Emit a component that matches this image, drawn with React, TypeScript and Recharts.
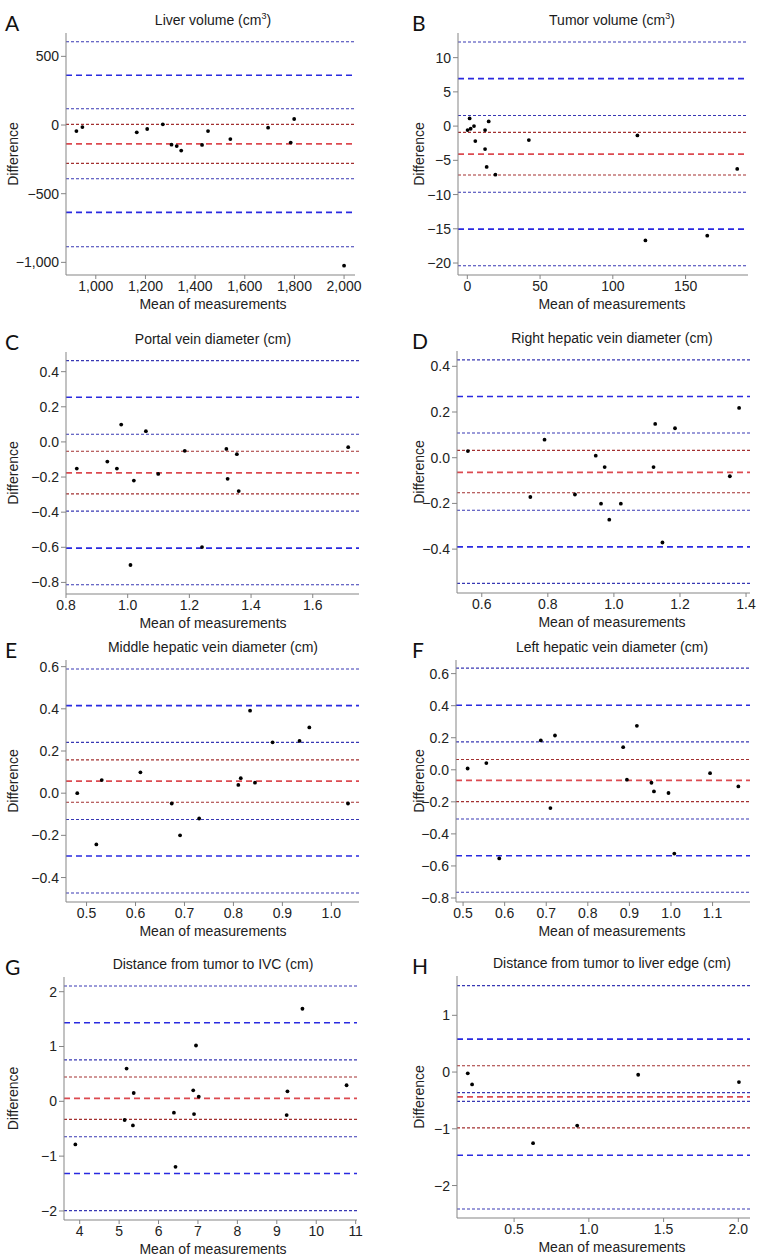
import React from "react";
import {
  ScatterChart,
  Scatter,
  XAxis,
  YAxis,
  ReferenceLine,
  Label,
} from "recharts";

const FONT = '"Liberation Sans", Arial, Helvetica, sans-serif';

// limits: bias, bias CI lo, bias CI hi, upper LoA, CI lo, CI hi, lower LoA, CI lo, CI hi

// A - liver volume
const liverMean = [922, 946, 1165, 1207, 1270, 1305, 1326, 1344, 1428, 1452, 1542, 1694, 1785, 1799, 2000];
const liverDiff = [-44, -15, -53, -29, 5, -143, -153, -186, -145, -44, -102, -19, -128, 44, -1024];
const liverLimits = [-138, -279, 5, 362, 119, 606, -636, -886, -391];
const liverXTicks = [1000, 1200, 1400, 1600, 1800, 2000];
const liverYTicks = [-1000, -500, 0, 500];

// B - tumor volume
const tumorMean = [0.2, 2.3, 1.6, 4.6, 5.5, 12.2, 12.2, 13.3, 14.7, 19.3, 42.3, 116.9, 122.4, 164.9, 185.5];
const tumorDiff = [-0.58, -0.39, 1.12, 0, -2.18, -0.58, -3.35, -5.97, 0.68, -7.09, -2.04, -1.36, -16.7, -16.0, -6.26];
const tumorLimits = [-4.08, -7.14, -0.92, 6.94, 1.55, 12.28, -15.05, -20.39, -9.66];
const tumorXTicks = [0, 50, 100, 150];
const tumorYTicks = [-20, -15, -10, -5, 0, 5, 10];

// C - portal vein
const portalMean = [0.835, 0.934, 0.965, 0.979, 1.009, 1.02, 1.059, 1.099, 1.185, 1.241, 1.32, 1.324, 1.354, 1.36, 1.715];
const portalDiff = [-0.152, -0.112, -0.152, 0.099, -0.701, -0.22, 0.061, -0.182, -0.051, -0.599, -0.04, -0.21, -0.07, -0.28, -0.03];
const portalLimits = [-0.176, -0.296, -0.053, 0.254, 0.044, 0.463, -0.605, -0.813, -0.394];
const portalXTicks = [0.8, 1.0, 1.2, 1.4, 1.6];
const portalYTicks = [-0.8, -0.6, -0.4, -0.2, 0, 0.2, 0.4];

// D - right hepatic vein
const rightMean = [0.558, 0.747, 0.79, 0.882, 0.945, 0.961, 0.972, 0.986, 1.021, 1.12, 1.125, 1.147, 1.185, 1.351, 1.379];
const rightDiff = [0.029, -0.172, 0.079, -0.161, 0.009, -0.201, -0.041, -0.271, -0.201, -0.041, 0.148, -0.371, 0.129, -0.081, 0.218];
const rightLimits = [-0.064, -0.153, 0.032, 0.268, 0.108, 0.428, -0.39, -0.55, -0.23];
const rightXTicks = [0.6, 0.8, 1.0, 1.2, 1.4];
const rightYTicks = [-0.4, -0.2, 0, 0.2, 0.4];

// E - middle hepatic vein
const middleMean = [0.481, 0.52, 0.531, 0.61, 0.674, 0.691, 0.73, 0.81, 0.815, 0.834, 0.844, 0.88, 0.935, 0.955, 1.034];
const middleDiff = [0.0, -0.243, 0.062, 0.099, -0.049, -0.2, -0.12, 0.039, 0.071, 0.391, 0.05, 0.241, 0.248, 0.312, -0.049];
const middleLimits = [0.057, -0.043, 0.158, 0.415, 0.241, 0.589, -0.298, -0.473, -0.125];
const middleXTicks = [0.5, 0.6, 0.7, 0.8, 0.9, 1.0];
const middleYTicks = [-0.4, -0.2, 0, 0.2, 0.4, 0.6];

// F - left hepatic vein
const leftMean = [0.511, 0.556, 0.587, 0.687, 0.71, 0.721, 0.885, 0.894, 0.918, 0.953, 0.959, 0.994, 1.008, 1.094, 1.162];
const leftDiff = [0.008, 0.042, -0.553, 0.183, -0.239, 0.214, 0.141, -0.062, 0.274, -0.081, -0.135, -0.145, -0.523, -0.021, -0.104];
const leftLimits = [-0.066, -0.199, 0.064, 0.403, 0.174, 0.634, -0.536, -0.764, -0.307];
const leftXTicks = [0.5, 0.6, 0.7, 0.8, 0.9, 1.0, 1.1];
const leftYTicks = [-0.8, -0.6, -0.4, -0.2, 0, 0.2, 0.4, 0.6];

// G - tumor to IVC
const ivcMean = [3.89, 5.14, 5.19, 5.35, 5.37, 6.39, 6.43, 6.88, 6.9, 6.95, 7.02, 9.25, 9.27, 9.65, 10.77];
const ivcDiff = [-0.787, -0.341, 0.598, -0.439, 0.152, -0.207, -1.195, 0.201, -0.232, 1.018, 0.085, -0.25, 0.183, 1.689, 0.293];
const ivcLimits = [0.055, -0.329, 0.445, 1.433, 0.756, 2.104, -1.317, -1.994, -0.646];
const ivcXTicks = [4, 5, 6, 7, 8, 9, 10, 11];
const ivcYTicks = [-2, -1, 0, 1, 2];

// H - tumor to liver edge
const edgeMean = [0.19, 0.219, 0.627, 0.922, 1.33, 2.004];
const edgeDiff = [-0.023, -0.217, -1.254, -0.943, -0.047, -0.176];
const edgeLimits = [-0.439, -0.984, 0.111, 0.58, -0.363, 1.523, -1.465, -2.414, -0.516];
const edgeXTicks = [0.5, 1.0, 1.5, 2.0];
const edgeYTicks = [-2, -1, 0, 1];

const fmt = (digits: number, comma = false) => (v: number) => {
  const a = Math.abs(v);
  const s = comma ? a.toLocaleString("en-US") : a.toFixed(digits);
  return (v < 0 ? "\u2212" : "") + s;
};

function lineStyle(i: number) {
  if (i === 0) return { stroke: "#dc4a50", dash: "6 4", w: 1.8 };
  if (i < 3) return { stroke: "#a33030", dash: "3 2", w: 1.1 };
  if (i === 3 || i === 6) return { stroke: "#2a2ae0", dash: "6 4", w: 1.6 };
  return { stroke: "#3838b4", dash: "3 2", w: 1.1 };
}

type PanelDef = {
  letter: string;
  title: React.ReactNode;
  col: number;
  box: [number, number, number, number];
  mean: number[];
  diff: number[];
  limits: number[];
  xDomain: [number, number];
  yDomain: [number, number];
  xTicks: number[];
  yTicks: number[];
  xFmt: (v: number) => string;
  yFmt: (v: number) => string;
};

const cm3 = (name: string) => (
  <>
    {name} (cm<sup style={{ fontSize: 9, lineHeight: 0 }}>3</sup>)
  </>
);

const panels: PanelDef[] = [
  { letter: "A", title: cm3("Liver volume"), col: 0, box: [66, 33, 355, 275], mean: liverMean, diff: liverDiff, limits: liverLimits, xDomain: [880, 2044], yDomain: [-1092, 670], xTicks: liverXTicks, yTicks: liverYTicks, xFmt: fmt(0, true), yFmt: fmt(0, true) },
  { letter: "B", title: cm3("Tumor volume"), col: 1, box: [458, 33, 748, 275], mean: tumorMean, diff: tumorDiff, limits: tumorLimits, xDomain: [-6.4, 192.9], yDomain: [-21.75, 13.6], xTicks: tumorXTicks, yTicks: tumorYTicks, xFmt: fmt(0), yFmt: fmt(0) },
  { letter: "C", title: "Portal vein diameter (cm)", col: 0, box: [66, 352, 359, 594], mean: portalMean, diff: portalDiff, limits: portalLimits, xDomain: [0.8, 1.75], yDomain: [-0.866, 0.512], xTicks: portalXTicks, yTicks: portalYTicks, xFmt: fmt(1), yFmt: fmt(1) },
  { letter: "D", title: "Right hepatic vein diameter (cm)", col: 1, box: [457, 351, 750, 593], mean: rightMean, diff: rightDiff, limits: rightLimits, xDomain: [0.525, 1.412], yDomain: [-0.592, 0.467], xTicks: rightXTicks, yTicks: rightYTicks, xFmt: fmt(1), yFmt: fmt(1) },
  { letter: "E", title: "Middle hepatic vein diameter (cm)", col: 0, box: [66, 660, 359, 902], mean: middleMean, diff: middleDiff, limits: middleLimits, xDomain: [0.458, 1.0565], yDomain: [-0.516, 0.6315], xTicks: middleXTicks, yTicks: middleYTicks, xFmt: fmt(1), yFmt: fmt(1) },
  { letter: "F", title: "Left hepatic vein diameter (cm)", col: 1, box: [456, 660, 750, 902], mean: leftMean, diff: leftDiff, limits: leftLimits, xDomain: [0.483, 1.19], yDomain: [-0.825, 0.685], xTicks: leftXTicks, yTicks: leftYTicks, xFmt: fmt(1), yFmt: fmt(1) },
  { letter: "G", title: "Distance from tumor to IVC (cm)", col: 0, box: [64, 977, 357, 1220], mean: ivcMean, diff: ivcDiff, limits: ivcLimits, xDomain: [3.602, 11.034], yDomain: [-2.165, 2.268], xTicks: ivcXTicks, yTicks: ivcYTicks, xFmt: fmt(0), yFmt: fmt(0) },
  { letter: "H", title: "Distance from tumor to liver edge (cm)", col: 1, box: [457, 976, 750, 1218], mean: edgeMean, diff: edgeDiff, limits: edgeLimits, xDomain: [0.118, 2.078], yDomain: [-2.572, 1.693], xTicks: edgeXTicks, yTicks: edgeYTicks, xFmt: fmt(1), yFmt: fmt(0) },
];

const textStyle = { fontSize: 14, fill: "#222", fontFamily: FONT };
const FRAME = "#858585";

function Panel({ d }: { d: PanelDef }) {
  const colX = d.col * 390;
  const [L, T, R, B] = d.box;
  const height = B - T + 5 + 40 + 4;
  const centerX = colX + (d.col === 0 ? 213 : 222);
  const data = d.mean.map((x, i) => ({ x, y: d.diff[i] }));
  return (
    <>
      <div
        style={{
          position: "absolute",
          left: colX + (d.col ? 22 : 5),
          top: T - 21,
          fontFamily: "Lato, 'Open Sans', sans-serif",
          fontSize: 21,
          lineHeight: "21px",
          color: "#111",
        }}
      >
        {d.letter}
      </div>
      <div
        style={{
          position: "absolute",
          left: centerX - 180,
          width: 360,
          top: T - 22,
          textAlign: "center",
          fontFamily: FONT,
          fontSize: 14,
          lineHeight: "18px",
          color: "#1a1a1a",
        }}
      >
        {d.title}
      </div>
      <div style={{ position: "absolute", left: colX, top: T - 5 }}>
        <ScatterChart
          width={390}
          height={height}
          margin={{ top: 5, right: colX + 390 - R, bottom: 4, left: 0 }}
        >
          <XAxis
            type="number"
            dataKey="x"
            domain={d.xDomain}
            ticks={d.xTicks}
            interval={0}
            allowDataOverflow
            tickFormatter={d.xFmt}
            height={40}
            stroke={FRAME}
            tickSize={4}
            tickMargin={2}
            tick={textStyle}
          >
            <Label
              value="Mean of measurements"
              position="insideBottom"
              offset={6}
              dx={centerX - (L + R) / 2}
              {...textStyle}
            />
          </XAxis>
          <XAxis
            xAxisId="top"
            orientation="top"
            type="number"
            dataKey="x"
            domain={d.xDomain}
            allowDataOverflow
            height={0}
            tick={false}
            tickLine={false}
            stroke={FRAME}
          />
          <YAxis
            type="number"
            dataKey="y"
            domain={d.yDomain}
            ticks={d.yTicks}
            interval={0}
            allowDataOverflow
            tickFormatter={d.yFmt}
            width={L - colX}
            stroke={FRAME}
            tickSize={5}
            tickMargin={2}
            tick={textStyle}
          >
            <Label
              value="Difference"
              angle={-90}
              position="insideLeft"
              offset={d.col ? 29.5 : 12.7}
              style={{ textAnchor: "middle" }}
              {...textStyle}
            />
          </YAxis>
          <YAxis
            yAxisId="right"
            orientation="right"
            type="number"
            dataKey="y"
            domain={d.yDomain}
            allowDataOverflow
            width={0}
            tick={false}
            tickLine={false}
            stroke={FRAME}
          />
          {d.limits.map((v, i) => {
            const s = lineStyle(i);
            return (
              <ReferenceLine
                key={i}
                y={v}
                stroke={s.stroke}
                strokeDasharray={s.dash}
                strokeWidth={s.w}
              />
            );
          })}
          <Scatter
            data={data}
            isAnimationActive={false}
            shape={(p: any) => <circle cx={p.cx} cy={p.cy} r={1.9} fill="#000" />}
          />
        </ScatterChart>
      </div>
    </>
  );
}

export default function App() {
  return (
    <div
      style={{
        position: "absolute",
        left: 0,
        top: 0,
        width: 781,
        height: 1259,
        background: "#fff",
      }}
    >
      {panels.map((d) => (
        <Panel key={d.letter} d={d} />
      ))}
    </div>
  );
}
